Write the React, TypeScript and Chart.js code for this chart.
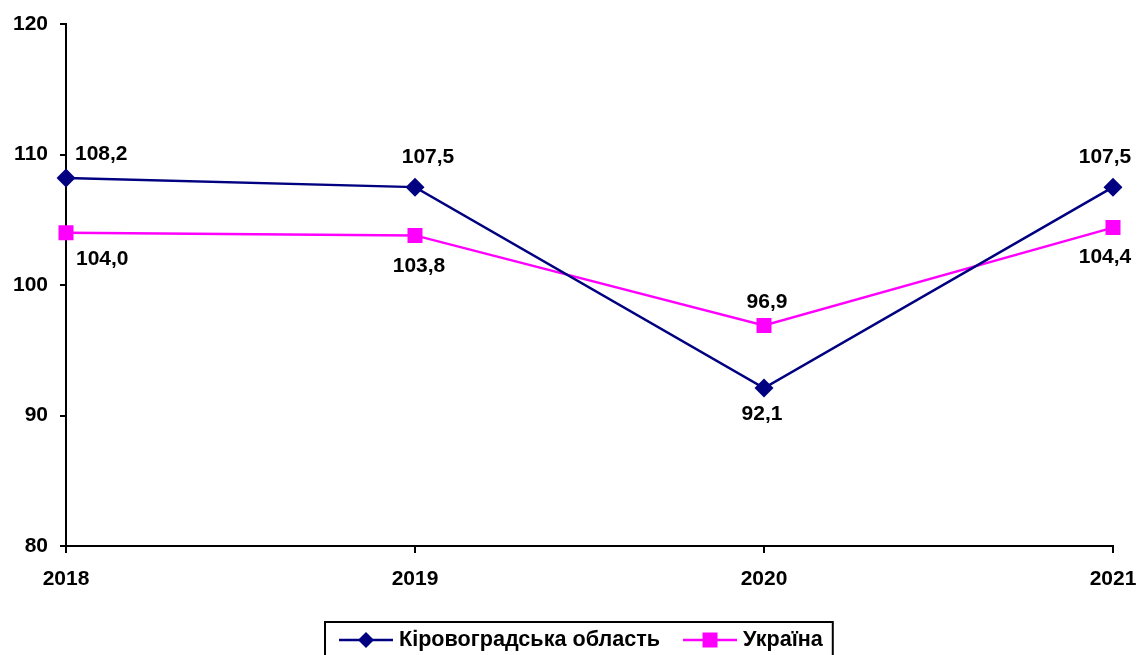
import React, { useEffect, useRef } from "react";
import { Chart, registerables } from "chart.js";

Chart.register(...registerables);

const categories = ["2018", "2019", "2020", "2021"];
const kirovohradValues = [108.2, 107.5, 92.1, 107.5];
const ukraineValues = [104.0, 103.8, 96.9, 104.4];
const seriesNames = ["Кіровоградська область", "Україна"];
const yTicks = [80, 90, 100, 110, 120];

// label placement per point: [dx, dy, align]
const kirovohradLabelPos: [number, number, CanvasTextAlign][] = [
  [9, -24, "left"],
  [13, -30, "center"],
  [-2, 26, "center"],
  [-8, -30, "center"],
];
const ukraineLabelPos: [number, number, CanvasTextAlign][] = [
  [10, 26, "left"],
  [4, 31, "center"],
  [3, -23, "center"],
  [-8, 30, "center"],
];

const FONT = "'Liberation Sans', Arial, sans-serif";
const NAVY = "#000080";
const MAGENTA = "#FF00FF";

const fmt = (v: number) => v.toFixed(1).replace(".", ",");

const labelsPlugin = {
  id: "valueLabels",
  afterDatasetsDraw(chart: any) {
    const ctx = chart.ctx;
    ctx.save();
    ctx.font = `bold 21px ${FONT}`;
    ctx.fillStyle = "#000";
    ctx.textBaseline = "middle";
    const posSets = [kirovohradLabelPos, ukraineLabelPos];
    chart.data.datasets.forEach((ds: any, di: number) => {
      const meta = chart.getDatasetMeta(di);
      meta.data.forEach((pt: any, i: number) => {
        const [dx, dy, align] = posSets[di][i];
        ctx.textAlign = align;
        ctx.fillText(fmt(ds.data[i]), pt.x + dx, pt.y + dy);
      });
    });
    ctx.restore();
  },
};

const legendPlugin = {
  id: "boxLegend",
  afterDraw(chart: any) {
    const ctx = chart.ctx;
    ctx.save();
    ctx.font = `bold 21.6px ${FONT}`;
    const boxLeft = 325;
    const boxTop = 622;
    const cy = 640;
    const w0 = ctx.measureText(seriesNames[0]).width;
    const w1 = ctx.measureText(seriesNames[1]).width;
    const lineLen = 54;
    const gapAfterLine = 6;
    const gapBetween = 23;
    const padL = 14;
    const padR = 10;
    const boxWidth = padL + lineLen + gapAfterLine + w0 + gapBetween + lineLen + gapAfterLine + w1 + padR;
    ctx.strokeStyle = "#000";
    ctx.lineWidth = 2;
    ctx.strokeRect(boxLeft, boxTop, boxWidth, 50);

    let x = boxLeft + padL;
    const items = [
      { color: NAVY, style: "rectRot", radius: 8, text: seriesNames[0], w: w0 },
      { color: MAGENTA, style: "rect", radius: 10.6, text: seriesNames[1], w: w1 },
    ];
    items.forEach((it) => {
      ctx.strokeStyle = it.color;
      ctx.lineWidth = 2.5;
      ctx.beginPath();
      ctx.moveTo(x, cy);
      ctx.lineTo(x + lineLen, cy);
      ctx.stroke();
      ctx.fillStyle = it.color;
      const cx = x + lineLen / 2;
      ctx.beginPath();
      if (it.style === "rectRot") {
        ctx.moveTo(cx, cy - it.radius);
        ctx.lineTo(cx + it.radius, cy);
        ctx.lineTo(cx, cy + it.radius);
        ctx.lineTo(cx - it.radius, cy);
        ctx.closePath();
      } else {
        const s = it.radius * Math.SQRT1_2;
        ctx.rect(cx - s, cy - s, 2 * s, 2 * s);
      }
      ctx.fill();
      x += lineLen + gapAfterLine;
      ctx.fillStyle = "#000";
      ctx.textAlign = "left";
      ctx.textBaseline = "middle";
      ctx.fillText(it.text, x, cy);
      x += it.w + gapBetween;
    });
    ctx.restore();
  },
};

export default function App() {
  const ref = useRef<HTMLCanvasElement>(null);
  useEffect(() => {
    document.body.style.margin = "0";
    const chart = new Chart(ref.current!, {
      type: "line",
      data: {
        labels: categories,
        datasets: [
          {
            label: seriesNames[0],
            data: kirovohradValues,
            borderColor: NAVY,
            backgroundColor: NAVY,
            borderWidth: 2.5,
            pointStyle: "rectRot",
            pointRadius: 9.5,
            pointBorderWidth: 0,
            tension: 0,
          },
          {
            label: seriesNames[1],
            data: ukraineValues,
            borderColor: MAGENTA,
            backgroundColor: MAGENTA,
            borderWidth: 2.5,
            pointStyle: "rect",
            pointRadius: 10.6,
            pointBorderWidth: 0,
            tension: 0,
          },
        ],
      },
      options: {
        animation: false,
        responsive: false,
        layout: { padding: { left: 0, right: 26, top: 24, bottom: 59 } },
        plugins: { legend: { display: false }, tooltip: { enabled: false } },
        scales: {
          x: {
            type: "category",
            offset: false,
            grid: { drawOnChartArea: false, color: "#000", lineWidth: 2, tickLength: 7 },
            border: { color: "#000", width: 2 },
            ticks: { color: "#000", font: { family: FONT, size: 21, weight: "bold" }, padding: 14, maxRotation: 0 },
            afterFit: (s: any) => { s.height = 50; s.paddingLeft = 0; s.paddingRight = 0; },
          },
          y: {
            min: 80,
            max: 120,
            afterBuildTicks: (s: any) => { s.ticks = yTicks.map((v) => ({ value: v })); },
            grid: { drawOnChartArea: false, color: "#000", lineWidth: 2, tickLength: 6 },
            border: { color: "#000", width: 2 },
            ticks: { color: "#000", font: { family: FONT, size: 21, weight: "bold" }, padding: 12 },
            afterFit: (s: any) => { s.width = 66; s.paddingTop = 0; s.paddingBottom = 0; },
          },
        },
      },
      plugins: [labelsPlugin, legendPlugin],
    } as any);
    return () => chart.destroy();
  }, []);
  return <canvas ref={ref} width={1139} height={655} style={{ display: "block" }} />;
}
